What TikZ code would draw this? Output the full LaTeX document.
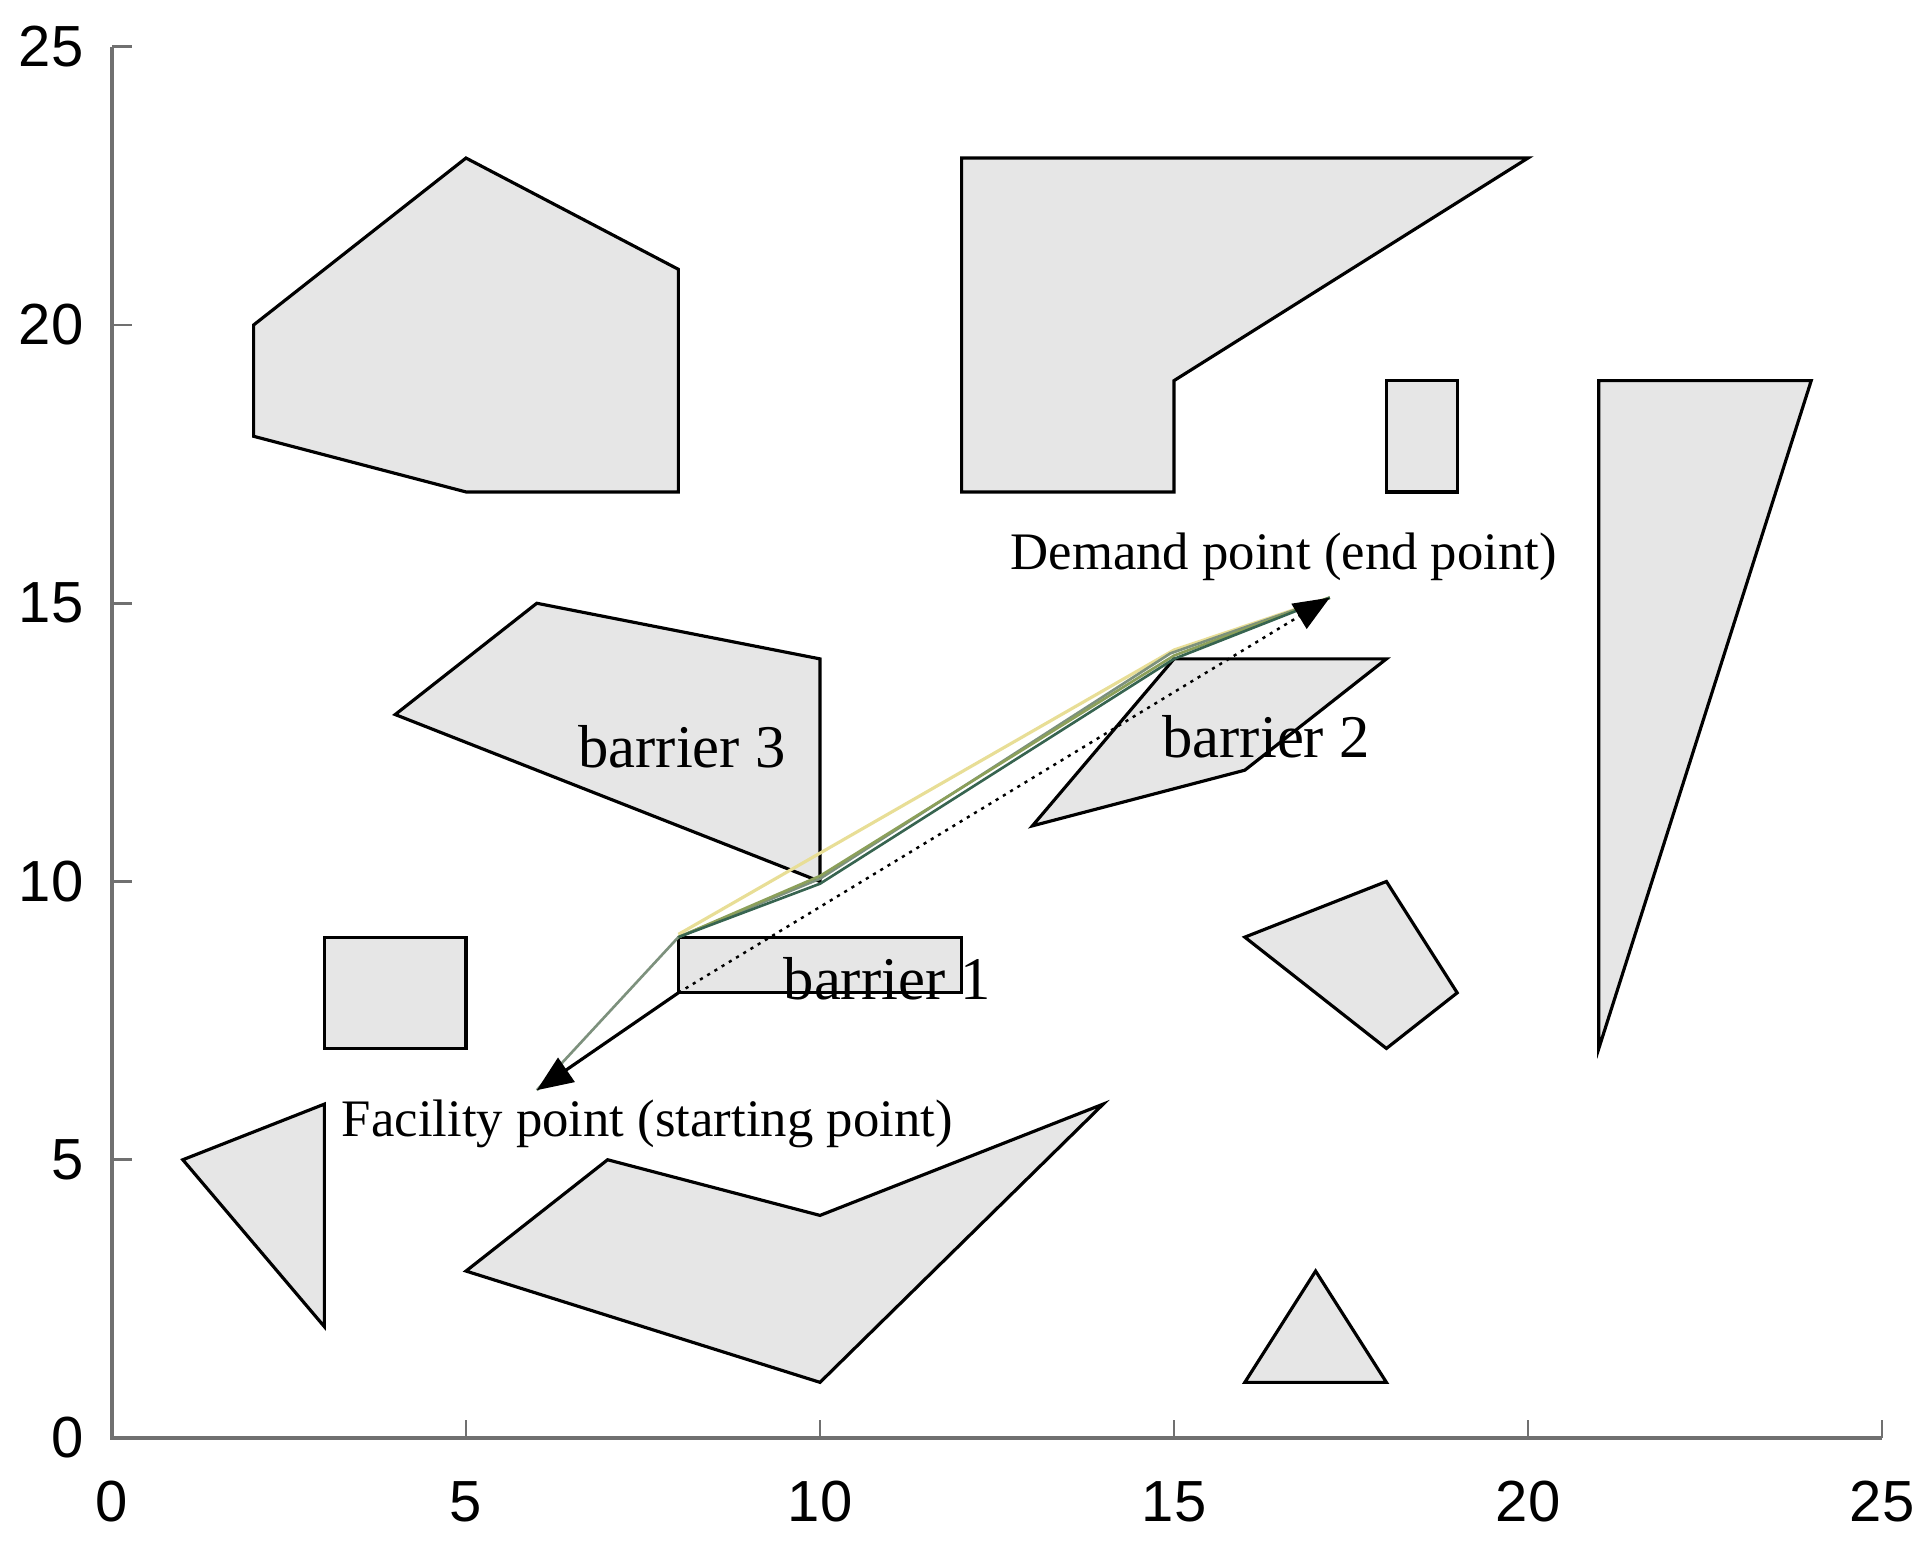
\documentclass[tikz,border=0pt]{standalone}
\usepackage{fontspec}
\setmainfont{Liberation Serif}
\newfontfamily\axisfont{Liberation Sans}
\usetikzlibrary{arrows.meta}
\definecolor{axisgray}{RGB}{112,112,112}
\definecolor{obstfill}{RGB}{230,230,230}
\definecolor{pdark}{RGB}{55,100,80}
\definecolor{polive}{RGB}{140,160,90}
\definecolor{pgray}{RGB}{125,145,125}
\definecolor{pyellow}{RGB}{232,222,150}
\begin{document}
\begin{tikzpicture}[x=1.416cm,y=1.113cm,
  obst/.style={draw=black,fill=obstfill,line width=1.8pt,line join=miter},
  axisline/.style={draw=axisgray,line width=2.6pt},
  tickline/.style={draw=axisgray,line width=1.6pt},
  ticklab/.style={font=\axisfont\fontsize{33}{38}\selectfont,inner sep=0pt},
  lab/.style={font=\fontsize{30}{36}\selectfont,inner sep=0pt},
  blab/.style={font=\fontsize{34.5}{40}\selectfont,inner sep=0pt},
  route/.style={line width=1.5pt,line join=round},
  bigtip/.style={-{Triangle[length=0.72cm,width=0.58cm]}}
]
\useasboundingbox (-1.582,-2.013) rectangle (25.692,25.84);

% axes
\coordinate (O) at (0,0);
\coordinate (XE) at (25,0);
\coordinate (YE) at (0,25);
\draw[axisline] (YE) -- (O) -- (XE);
\foreach \v in {0,5,...,25}{
  \draw[tickline] (\v,0) -- (\v,0.33);
  \draw[tickline] (0,\v) -- (0.28,\v);
  \node[ticklab,anchor=center] (xl\v) at (\v,-1.15) {\v};
  \node[ticklab,anchor=east] (yl\v) at (-0.40,\v) {\v};
}

% obstacles
\draw[obst] (2,20) -- (5,23) -- (8,21) -- (8,17) -- (5,17) -- (2,18) -- cycle;
\draw[obst] (12,23) -- (20,23) -- (15,19) -- (15,17) -- (12,17) -- cycle;
\draw[obst] (18,17) rectangle (19,19);
\draw[obst] (21,19) -- (24,19) -- (21,7) -- cycle;
\draw[obst] (4,13) -- (6,15) -- (10,14) -- (10,10) -- cycle;
\draw[obst] (15,14) -- (18,14) -- (16,12) -- (13,11) -- cycle;
\draw[obst] (8,8) rectangle (12,9);
\draw[obst] (3,7) rectangle (5,9);
\draw[obst] (16,9) -- (18,10) -- (19,8) -- (18,7) -- cycle;
\draw[obst] (1,5) -- (3,6) -- (3,2) -- cycle;
\draw[obst] (5,3) -- (7,5) -- (10,4) -- (14,6) -- (10,1) -- cycle;
\draw[obst] (16,1) -- (17,3) -- (18,1) -- cycle;

% key points
\coordinate (F) at (6.0,6.25);
\coordinate (D) at (17.2,15.1);
\coordinate (B1a) at (8,9);
\coordinate (B1b) at (8,8);
\coordinate (B3) at (10,10);
\coordinate (B2) at (15,14);

% routes
\draw[route,pyellow,line width=1.8pt] (8,9.05) -- (15,14.16) -- (D);
\draw[route,pgray] (F) -- (B1a) -- (10,10.05) -- (14.95,14.1) -- (D);
\draw[route,polive] (B1a) -- (10,10.1) -- (15,14.06) -- (D);
\draw[route,pdark] (B1a) -- (10,9.96) -- (B2) -- (D);
\draw[line width=1.4pt,dash pattern=on 1.8pt off 3pt,bigtip] (B1b) -- (D);
\draw[line width=1.8pt,bigtip] (B1b) -- (F);

% labels
\node[lab] (dlab) at (16.55,15.83) {Demand point (end point)};
\node[lab] (flab) at (7.56,5.64) {Facility point (starting point)};
\node[blab] (b3) at (8.05,12.43) {barrier 3};
\node[blab] (b2) at (16.3,12.6) {barrier 2};
\node[blab] (b1) at (10.95,8.25) {barrier 1};
\end{tikzpicture}
\end{document}
